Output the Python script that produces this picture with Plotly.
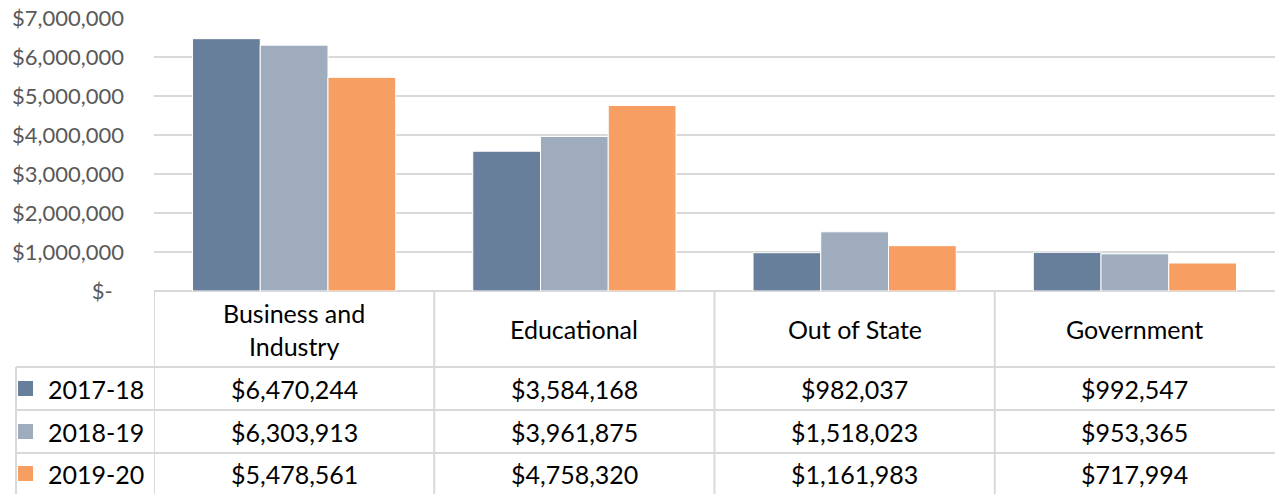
import plotly.graph_objects as go

# data
categories = ["Business and Industry", "Educational", "Out of State", "Government"]
header_labels = ["Business and<br>Industry", "Educational", "Out of State", "Government"]
years = ["2017-18", "2018-19", "2019-20"]
funding_2017 = [6470244, 3584168, 982037, 992547]
funding_2018 = [6303913, 3961875, 1518023, 953365]
funding_2019 = [5478561, 4758320, 1161983, 717994]
tick_vals = [0, 1000000, 2000000, 3000000, 4000000, 5000000, 6000000, 7000000]
tick_text = ["$-\u00a0\u00a0", "$1,000,000", "$2,000,000", "$3,000,000",
             "$4,000,000", "$5,000,000", "$6,000,000", "$7,000,000"]

series = [funding_2017, funding_2018, funding_2019]
colors = ["#687F9B", "#9EACBE", "#F79F63"]

FONT = "Lato"
GRID = "#D9D9D9"
CELL_SIZE = 25

W, H = 1275, 494
ML, MT = 154, 18
plot_w = W - ML
plot_h = H - MT


def py(pixel_y):
    # pixel y (from top) -> paper y
    return (H - pixel_y) / plot_h


def px(pixel_x):
    return (pixel_x - ML) / plot_w


fig = go.Figure()
for name, vals, col in zip(years, series, colors):
    fig.add_trace(go.Bar(name=name, x=categories, y=vals,
                         marker=dict(color=col, line=dict(color="white", width=1)),
                         showlegend=False, hoverinfo="skip"))

chart_bottom = py(291)
row_lines = [py(367), py(410), py(453)]
row_centers = [py(388.5), py(431.5), py(473.5)]
left_edge = px(16)

shapes = []
# vertical lines of the table (category boundaries)
for i in range(len(categories)):
    shapes.append(dict(type="line", xref="x", yref="paper", x0=i - 0.5, x1=i - 0.5,
                       y0=0, y1=chart_bottom, line=dict(color=GRID, width=2)))
shapes.append(dict(type="line", xref="paper", yref="paper", x0=left_edge, x1=left_edge,
                   y0=0, y1=row_lines[0], line=dict(color=GRID, width=2)))
for y in row_lines:
    shapes.append(dict(type="line", xref="paper", yref="paper", x0=left_edge, x1=1,
                       y0=y, y1=y, line=dict(color=GRID, width=2)))
# legend keys
for yc, col in zip(row_centers, colors):
    shapes.append(dict(type="rect", xref="paper", yref="paper",
                       x0=px(18), x1=px(33), y0=yc - 7.5 / plot_h, y1=yc + 7.5 / plot_h,
                       fillcolor=col, line=dict(width=0)))

annotations = []
for cat, lab in zip(categories, header_labels):
    annotations.append(dict(x=cat, xref="x", y=py(329), yref="paper", text=lab,
                            showarrow=False, font=dict(family=FONT, size=CELL_SIZE, color="black"),
                            xanchor="center", yanchor="middle"))
for yc, name, vals in zip(row_centers, years, series):
    annotations.append(dict(x=px(46), xref="paper", y=yc, yref="paper", text=name,
                            showarrow=False, font=dict(family=FONT, size=CELL_SIZE, color="black"),
                            xanchor="left", yanchor="middle"))
    for cat, v in zip(categories, vals):
        annotations.append(dict(x=cat, xref="x", y=yc, yref="paper", text=f"${v:,}",
                                showarrow=False, font=dict(family=FONT, size=CELL_SIZE, color="black"),
                                xanchor="center", yanchor="middle"))

fig.update_layout(
    width=W, height=H,
    margin=dict(l=ML, r=0, t=MT, b=0, autoexpand=False),
    barmode="group", bargap=0.275, bargroupgap=0,
    paper_bgcolor="white", plot_bgcolor="white",
    shapes=shapes, annotations=annotations,
    xaxis=dict(range=[-0.5, 3.5], showticklabels=False, showgrid=False,
               zeroline=False, showline=False, fixedrange=True, automargin=False),
    yaxis=dict(domain=[chart_bottom, 1], range=[0, 7000000],
               tickvals=tick_vals, ticktext=tick_text, ticks="",
               ticklabelstandoff=29, automargin=False, fixedrange=True,
               tickfont=dict(family=FONT, size=22, color="#595959"),
               showgrid=True, gridcolor=GRID, gridwidth=1.5,
               zeroline=True, zerolinecolor=GRID, zerolinewidth=2,
               showline=False),
)

# page body has a default 8px margin; drop it so the figure fills the window
fig.write_html("out.html", config={"displayModeBar": False},
               post_script="document.body.style.margin='0';")
